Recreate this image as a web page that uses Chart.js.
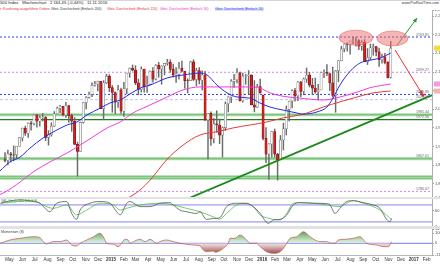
<!DOCTYPE html>
<html lang="de">
<head>
<meta charset="utf-8">
<title>S&amp;P 500 Wochenchart</title>
<script src="https://cdn.jsdelivr.net/npm/chart.js@4.4.1/dist/chart.umd.min.js"></script>
<style>
  html, body { margin: 0; padding: 0; }
  body { width: 440px; height: 264px; overflow: hidden; position: relative; background: #fff; font-family: "Liberation Sans", Arial, sans-serif; }
  canvas { position: absolute; left: 0; }
  .txt { position: absolute; white-space: nowrap; line-height: 1; }
  .sep { position: absolute; left: 0; width: 440px; background: #e2e2e2; }
</style>
</head>
<body>
<div class="sep" style="top:0;height:1px;background:#d6d6d6"></div>
<div class="txt" style="top:1px;left:0;font-size:4.2px;color:#222">500 Index&nbsp;&nbsp; Wochenchart&nbsp;&nbsp; 2.164,45 (-0,44%)&nbsp;&nbsp; 11.11.2016</div>
<div class="txt" style="top:2px;right:1px;font-size:3.6px;color:#333">www.ProRealTime.com</div>
<div class="txt" style="top:7.5px;left:0;font-size:3.5px;color:#e03030">r: Kurzfristig ausgeführte Orders</div>
<div class="txt" style="top:7.5px;left:51px;font-size:3.5px;color:#333">Gleit. Durchschnitt (Einfach 200)</div>
<div class="txt" style="top:7.5px;left:107px;font-size:3.5px;color:#e03030">Gleit. Durchschnitt (Einfach 120)</div>
<div class="txt" style="top:7.5px;left:160px;font-size:3.5px;color:#e030e0">Gleit. Durchschnitt (Einfach 50)</div>
<div class="txt" style="top:7.5px;left:215px;font-size:3.5px;color:#3030e0;background:#dfe3ff">Gleit. Durchschnitt (Einfach 20)</div>

<canvas id="main" width="440" height="188" style="top:10px"></canvas>
<div class="sep" style="top:197px;height:2px"></div>
<canvas id="stoch" width="440" height="28" style="top:199px"></canvas>
<div class="sep" style="top:226px;height:3px"></div>
<canvas id="mom" width="440" height="35" style="top:229px"></canvas>
<div class="txt" style="top:200px;left:1px;font-size:3.5px;color:#444">%K, <span style="color:#3a9a3a">Stoch %D (13,3,3)</span></div>
<div class="txt" style="top:230.5px;left:1px;font-size:3.5px;color:#444">Momentum (8)</div>

<script>
// Wochenkerzen S&P 500: erste Kerze = Woche bis 25.04.2014, letzte = 11.11.2016
const opens = [1865,1863,1881,1878,1878,1901,1923,1949,1936,1963,1961,1985,1968,1978,1978,1925,1932,1955,1988,2003,
  2008,1985,2010,1983,1968,1906,1887,1965,2018,2032,2040,2064,2068,2075,2002,2071,2089,2058,2045,2019,
  2052,1995,2055,2097,2110,2105,2071,2053,2108,2061,2067,2102,2081,2118,2108,2116,2123,2126,2107,2093,
  2094,2110,2102,2077,2077,2127,2080,2104,2078,2092,1971,1989,1921,1961,1958,1931,1951,2015,2033,2075,
  2079,2098,2023,2089,2090,2092,2012,2006,2061,2038,1922,1880,1907,1940,1880,1865,1918,1948,2000,2022,
  2050,2036,2073,2048,2081,2092,2065,2057,2047,2052,2099,2099,2096,2071,2037,2103,2130,2162,2175,2174,
  2183,2184,2184,2169,2180,2128,2139,2165,2168,2154,2133,2141,2126,2086];
const highs = [1884,1891,1885,1902,1901,1924,1950,1955,1964,1968,1985,1986,1983,1989,1981,1943,1964,1994,2006,2011,
  2008,2019,2010,1987,1978,1912,1966,2019,2034,2046,2071,2075,2076,2075,2077,2094,2093,2064,2047,2064,
  2057,2072,2097,2111,2119,2117,2081,2114,2108,2089,2103,2112,2120,2126,2117,2123,2134,2133,2121,2112,
  2126,2129,2102,2082,2129,2133,2110,2112,2103,2102,1989,1993,1976,1996,1974,1953,2020,2034,2080,2094,
  2109,2100,2097,2094,2104,2093,2077,2067,2081,2038,1951,1908,1940,1947,1882,1930,1963,2009,2022,2052,
  2056,2075,2075,2084,2111,2099,2083,2084,2067,2100,2106,2120,2096,2113,2104,2131,2169,2176,2178,2183,
  2194,2193,2187,2184,2187,2163,2175,2175,2169,2164,2148,2150,2128,2182];
const lows = [1859,1851,1859,1862,1868,1901,1915,1930,1925,1944,1958,1952,1955,1969,1916,1904,1928,1954,1988,1991,
  1982,1978,1965,1941,1906,1821,1887,1963,2001,2030,2034,2062,2049,2002,1972,2069,2047,1992,1988,2005,
  1989,1981,2041,2086,2103,2066,2039,2046,2046,2045,2065,2073,2079,2086,2067,2092,2118,2099,2086,2072,
  2081,2100,2057,2044,2077,2077,2063,2068,2052,1970,1867,1903,1910,1938,1908,1872,1943,1993,2018,2059,
  2071,2022,2019,2067,2042,2012,1993,2005,2043,1918,1857,1812,1872,1872,1810,1865,1891,1931,1969,2004,
  2022,2023,2034,2039,2072,2060,2039,2043,2025,2052,2085,2090,2050,2033,1992,2074,2130,2154,2156,2148,
  2175,2169,2160,2158,2128,2120,2132,2145,2143,2115,2124,2122,2084,2084];
const closes = [1863,1881,1878,1877,1901,1924,1949,1936,1963,1961,1985,1968,1978,1979,1925,1932,1955,1988,2003,2008,
  1985,2010,1983,1968,1906,1887,1965,2018,2032,2040,2064,2068,2075,2002,2071,2089,2058,2045,2019,2052,
  1995,2055,2097,2110,2105,2071,2053,2108,2061,2067,2102,2081,2118,2108,2116,2123,2126,2107,2093,2094,
  2110,2102,2077,2076,2127,2080,2104,2078,2092,1971,1989,1921,1961,1958,1931,1951,2015,2033,2075,2079,
  2099,2023,2089,2090,2092,2012,2006,2061,2044,1922,1880,1907,1940,1880,1865,1918,1948,2000,2022,2050,
  2036,2073,2048,2081,2092,2065,2057,2047,2052,2099,2100,2096,2071,2037,2103,2130,2162,2175,2174,2183,
  2184,2184,2169,2180,2128,2139,2165,2168,2154,2133,2141,2126,2085,2164];

// gleitende Durchschnitte (Woche, Kurs)
const ma20Weeks = [-1.7,1.7,5.2,8.6,13.1,16.6,21.4,24.8,28.3,32.8,36.2,39.7,44.1,47.6,50,55.9,61.4,67.2,69.7,73.1,
  76.6,80,84.5,87.9,91.4,95.9,100.7,102.8,107.6,111,113.1,115.5,119,122.4,125.9,129.3,133];
const ma20Values = [1835,1859,1872,1896,1923,1939,1958,1966,1985,2003,2017,2025,2046,2060,2065,2084,2092,2097,2092,2065,
  2044,2033,2030,2017,2006,1998,1990,1987,1993,2006,2030,2065,2102,2124,2132,2137,2151];
const ma50Weeks = [-1.7,0,5.2,9.7,15.5,21.4,25.9,30.3,35.2,39.7,44.1,49,55.9,61.4,67.2,73.1,80,84.5,87.9,91.4,
  95.9,101.7,109.7,115.5,121.4,125.9,133];
const ma50Values = [1772,1778,1805,1832,1859,1883,1904,1926,1950,1966,1990,2008,2033,2052,2060,2060,2060,2060,2057,2044,
  2035,2030,2025,2033,2046,2058,2068];
const ma120Weeks = [41,46.6,50,55.9,61.4,67.2,73.1,78.6,84.5,90.3,95.9,101.7,104.1,109.7,115.5,121.4,126.9,133];
const ma120Values = [1755,1784,1810,1866,1904,1931,1940,1950,1958,1966,1977,1985,1990,2006,2020,2033,2044,2049];

// horizontale Marken
const levelValues = [2193.81, 2099.27, 2039.89, 2025.91, 1780.07];
const levelLabels = ['2193.81', '2099.27', '2039.89', '2025.91', '1780.07'];
const supportValues = [1985.44, 1972.56, 1867.61, 1817.5];
const supportLabels = ['1985.44', '1972.56', '1867.61', ''];

// Zeichnungen
const trendWeeks = [62, 147.3];
const trendPrices = [1757, 2038];
const upArrowWeeks = [135.2, 142.1];
const upArrowPrices = [2172, 2245];
const downArrowWeeks = [134.5, 144.1];
const downArrowPrices = [2159, 2038];
const ellipseWeeks = [121, 133.6];
const ellipsePrices = [2192, 2190];

// Stochastik (13,3,3)
const stochKWeeks = [-1.5,0.6,5.2,9.8,12.1,14.4,15.5,17.8,21.3,23,24.7,25.9,29.3,32.8,36.2,38.5,39.7,41.95,43.1,46.6,
  50,53.4,56.9,58,60.3,62.6,66.1,67.2,69.5,71.8,74.1,76.4,79.9,83.3,85.6,88,90.8,92.6,94.8,97.1,
  99.4,101.7,106.3,110.9,112.1,113.8,115.5,117.8,120.1,123.6,127,129.3,131.6,132.8,133.3];
const stochKValues = [86,92,98,92,86,62,56,86,92,50,29,62,86,92,86,56,45,86,92,74,
  74,86,88,80,62,56,50,56,29,32,35,74,86,85,74,50,15,27,29,44,
  80,88,86,85,80,50,68,92,95,88,80,68,29,21,32];
const stochDWeeks = [-1.5,9.8,13,16.6,21.3,24.7,28.2,32.8,37.4,39.7,41.95,46.6,53.4,58,62.6,67.2,71.8,74.1,76.4,79.9,
  83.3,85.6,88,90.8,92.6,94.8,97.1,99.4,101.7,106.3,110.9,115.5,117.8,120.1,123.6,127,129.3,131.6,132.8,133.3];
const stochDValues = [86,95,80,68,80,45,62,86,80,62,68,80,86,80,68,56,38,30,50,80,
  86,74,44,33,29,27,50,86,88,86,80,74,86,95,86,74,62,44,32,30];

// Momentum (8)
const momWeeks = [-1.7,1.7,5.2,9.8,12.1,13.2,14.4,16.7,19,21.3,23,24.7,25.9,28.2,30.5,32.8,33.9,35.1,37.4,39.1,
  40.2,41.4,42.5,43.1,44.3,46.6,48.3,50,52.3,53.4,55.7,58,60.3,62.6,64.9,67.2,68.4,69.5,71.8,72.5,
  74.1,75.9,77,77.6,79.3,81,82.2,83.3,84.5,86.8,88,90.2,92.6,94.3,96,97.1,98.3,100.6,101.7,102.9,
  105.2,106.9,108.6,110.9,112.6,113.8,114.9,117.2,120.1,122.4,124.7,128.2,130.5,132.2,133.3];
const momValues = [0,33,50,66,56,17,-7,17,17,33,-17,-27,0,33,66,100,66,0,-10,-34,
  0,40,33,0,17,40,17,40,0,17,33,17,0,-10,-17,-27,-67,-84,-77,-90,
  -75,-34,0,50,50,83,66,33,0,0,-34,-84,-100,-94,-50,0,50,66,93,116,
  66,33,17,17,0,0,33,40,50,66,0,-17,-34,-34,17];

// Monatsbeschriftung der Zeitachse
const monthLabels = ['May','Jun','Jul','Aug','Sep','Oct','Nov','Dec','2015','Feb','Mar','Apr','May','Jun','Jul','Aug','Sep',
  'Oct','Nov','Dec','2016','Feb','Mar','Apr','May','Jun','Jul','Aug','Sep','Oct','Nov','Dec','2017','Feb'];

const START = Date.UTC(2014, 3, 25);
const WEEK = 7 * 24 * 3600 * 1000;
const monthTicks = monthLabels.map((m, i) => (Date.UTC(2014, 4 + i, 1) - START) / WEEK);

const X_MIN = -1.72, X_MAX = 147.24;

Chart.defaults.font.family = '"Liberation Sans", Arial, sans-serif';
Chart.defaults.animation = false;

function pts(xs, ys) {
    return xs.map((x, i) => ({ x: x, y: ys[i] }));
}
function line(xs, ys, color, width, extra) {
    return Object.assign({
        type: 'line', data: pts(xs, ys), borderColor: color, borderWidth: width,
        pointRadius: 0, fill: false, cubicInterpolationMode: 'monotone'
    }, extra || {});
}
function hline(v, color, width, dash, order) {
    return line([X_MIN, X_MAX], [v, v], color, width, { borderDash: dash || [], order: order });
}
function xAxis(show) {
    return { type: 'linear', min: X_MIN, max: X_MAX, offset: false, display: show, grid: { display: false } };
}
function yAxis(min, max, step) {
    return {
        position: 'right', min: min, max: max,
        grid: { display: true, drawOnChartArea: false, tickLength: 2, color: '#9a9a9a' },
        ticks: { display: true, stepSize: step, padding: 1, color: '#555', font: { size: 4 } },
        border: { color: '#b0b0b0' },
        afterFit(s) { s.width = 8; s.paddingTop = 0; s.paddingBottom = 0; }
    };
}
const baseOptions = {
    responsive: false, devicePixelRatio: 1,
    layout: { padding: 0 },
    plugins: { legend: { display: false }, tooltip: { enabled: false } },
    events: []
};

// Kennzeichnungen im Kurschart (Ellipsen, Pfeilspitzen, Beschriftungen)
function arrowHead(ctx, x0, y0, x1, y1, color) {
    const a = Math.atan2(y1 - y0, x1 - x0);
    ctx.fillStyle = color;
    ctx.beginPath();
    ctx.moveTo(x1, y1);
    ctx.lineTo(x1 - 5 * Math.cos(a - 0.45), y1 - 5 * Math.sin(a - 0.45));
    ctx.lineTo(x1 - 5 * Math.cos(a + 0.45), y1 - 5 * Math.sin(a + 0.45));
    ctx.closePath();
    ctx.fill();
}
const overlay = {
    id: 'overlay',
    afterDatasetsDraw(chart) {
        const { ctx, chartArea, scales: { x, y } } = chart;
        ctx.save();
        const radii = [[17, 7.5], [15.5, 7.5]];
        ellipseWeeks.forEach((w, i) => {
            ctx.beginPath();
            ctx.ellipse(x.getPixelForValue(w), y.getPixelForValue(ellipsePrices[i]), radii[i][0], radii[i][1], 0, 0, Math.PI * 2);
            ctx.fillStyle = 'rgba(240,110,110,0.5)';
            ctx.fill();
            ctx.strokeStyle = 'rgba(225,90,90,0.75)';
            ctx.lineWidth = 0.7;
            ctx.stroke();
        });
        arrowHead(ctx, x.getPixelForValue(upArrowWeeks[0]), y.getPixelForValue(upArrowPrices[0]),
            x.getPixelForValue(upArrowWeeks[1]), y.getPixelForValue(upArrowPrices[1]), '#2f9a2f');
        const rx = x.getPixelForValue(downArrowWeeks[1]), ry = y.getPixelForValue(downArrowPrices[1]);
        arrowHead(ctx, x.getPixelForValue(downArrowWeeks[0]), y.getPixelForValue(downArrowPrices[0]), rx, ry, '#e83030');
        ctx.fillStyle = '#e83030';
        ctx.fillRect(rx - 1.5, ry - 1.5, 3, 3);

        // Kursmarken rechts
        ctx.font = '3.6px "Liberation Sans", Arial, sans-serif';
        ctx.fillStyle = '#666';
        ctx.textAlign = 'right';
        ctx.textBaseline = 'bottom';
        levelValues.concat(supportValues).forEach((v, i) => {
            const t = levelLabels.concat(supportLabels)[i];
            if (t) ctx.fillText(t, chartArea.right - 3, y.getPixelForValue(v) - 0.5);
        });
        // Markierungen an der Preisachse
        const tags = [[closes[closes.length - 1], '#f2dc3a'], [ma50Values[ma50Values.length - 1], '#f29ae6'],
            [ma120Values[ma120Values.length - 1], '#f5b4b4']];
        tags.forEach(([v, c]) => {
            ctx.fillStyle = c;
            ctx.fillRect(chartArea.right + 2, y.getPixelForValue(v) - 2.5, 8, 5);
        });
        ctx.restore();
    }
};

const bodyUp = (c) => closes[c.dataIndex] >= opens[c.dataIndex];

new Chart(document.getElementById('main'), {
    type: 'bar',
    data: {
        datasets: [
            line(upArrowWeeks, upArrowPrices, '#2f9a2f', 1, { order: 0 }),
            line(downArrowWeeks, downArrowPrices, '#e83030', 1, { order: 0 }),
            line(trendWeeks, trendPrices, '#1b8a1b', 1.8, { order: 0 }),
            line(ma20Weeks, ma20Values, '#2828e8', 1, { order: 1 }),
            line(ma50Weeks, ma50Values, '#f03cdc', 1, { order: 1 }),
            line(ma120Weeks, ma120Values, '#e83a3a', 1, { order: 1 }),
            {
                type: 'bar', data: opens.map((o, i) => ({ x: i, y: [o, closes[i]] })),
                backgroundColor: (c) => bodyUp(c) ? '#fafafa' : '#d81e1e',
                borderColor: (c) => bodyUp(c) ? '#7a7a7a' : '#7a1414',
                borderWidth: 0.6, borderSkipped: false, barThickness: 2.3, grouped: false, order: 2
            },
            {
                type: 'bar', data: lows.map((l, i) => ({ x: i, y: [l, highs[i]] })),
                backgroundColor: '#6a6a6a', barThickness: 0.8, grouped: false, order: 3
            },
            hline(levelValues[0], '#2a3cf0', 1, [2, 2], 6),
            hline(levelValues[1], '#c58be8', 1, [2, 2], 6),
            hline(levelValues[2], '#2a3cf0', 1, [2, 2], 6),
            hline(levelValues[3], '#b4c6ea', 1, [3, 2], 6),
            hline(levelValues[4], '#c58be8', 1, [2, 2], 6),
            hline(supportValues[0], '#aadcaa', 3.2, [], 7),
            hline(supportValues[0], '#55b255', 0.7, [], 6),
            hline(supportValues[1], '#237a23', 1.2, [], 6),
            hline(supportValues[2], '#aadcaa', 3.2, [], 7),
            hline(supportValues[2], '#55b255', 0.7, [], 6),
            hline(supportValues[3], '#aadcaa', 4.5, [], 7),
            hline(supportValues[3] + 2.6, '#55b255', 0.6, [], 6),
            hline(supportValues[3] - 2.6, '#55b255', 0.6, [], 6)
        ]
    },
    options: Object.assign({}, baseOptions, {
        scales: { x: xAxis(false), y: yAxis(1762.3, 2266.2, 50) }
    }),
    plugins: [overlay]
});

new Chart(document.getElementById('stoch'), {
    type: 'line',
    data: {
        datasets: [
            line(stochKWeeks, stochKValues, '#555', 0.8, { order: 1 }),
            line(stochDWeeks, stochDValues, '#4cc04c', 0.8, { order: 1 }),
            hline(80, '#8686e6', 1, [], 3),
            hline(20, '#8686e6', 1, [], 3)
        ]
    },
    options: Object.assign({}, baseOptions, {
        scales: { x: xAxis(false), y: yAxis(2, 101, 30) }
    })
});

const momGradient = (c) => {
    const { chart } = c;
    const { ctx, chartArea, scales } = chart;
    if (!chartArea) return 'rgba(0,0,0,0)';
    const y0 = scales.y.getPixelForValue(0);
    const f = Math.min(Math.max((y0 - chartArea.top) / (chartArea.bottom - chartArea.top), 0.05), 0.95);
    const g = ctx.createLinearGradient(0, chartArea.top, 0, chartArea.bottom);
    g.addColorStop(0, 'rgba(40,130,40,0.95)');
    g.addColorStop(f, 'rgba(215,240,215,0.7)');
    g.addColorStop(f, 'rgba(240,215,215,0.7)');
    g.addColorStop(1, 'rgba(130,30,30,0.95)');
    return g;
};

new Chart(document.getElementById('mom'), {
    type: 'line',
    data: {
        datasets: [
            line(momWeeks, momValues, '#c06a60', 0.8, { fill: { target: { value: 0 } }, backgroundColor: momGradient, order: 1 }),
            hline(0, '#7b7be6', 1, [], 3)
        ]
    },
    options: Object.assign({}, baseOptions, {
        scales: {
            x: {
                type: 'linear', min: X_MIN, max: X_MAX, offset: false,
                grid: { display: false, drawTicks: false },
                border: { color: '#b8b8b8' },
                afterBuildTicks(s) { s.ticks = monthTicks.map(v => ({ value: v })); },
                afterFit(s) { s.height = 9; s.paddingLeft = 0; s.paddingRight = 0; },
                ticks: {
                    autoSkip: false, maxRotation: 0, padding: 2, color: '#333', labelOffset: 2,
                    callback: (v, i) => monthLabels[i],
                    font: (c) => ({ size: 4.5, weight: /^\d/.test(monthLabels[c.index] || '') ? 'bold' : 'normal' })
                }
            },
            y: yAxis(-117, 143, 100)
        }
    })
});
</script>
</body>
</html>
